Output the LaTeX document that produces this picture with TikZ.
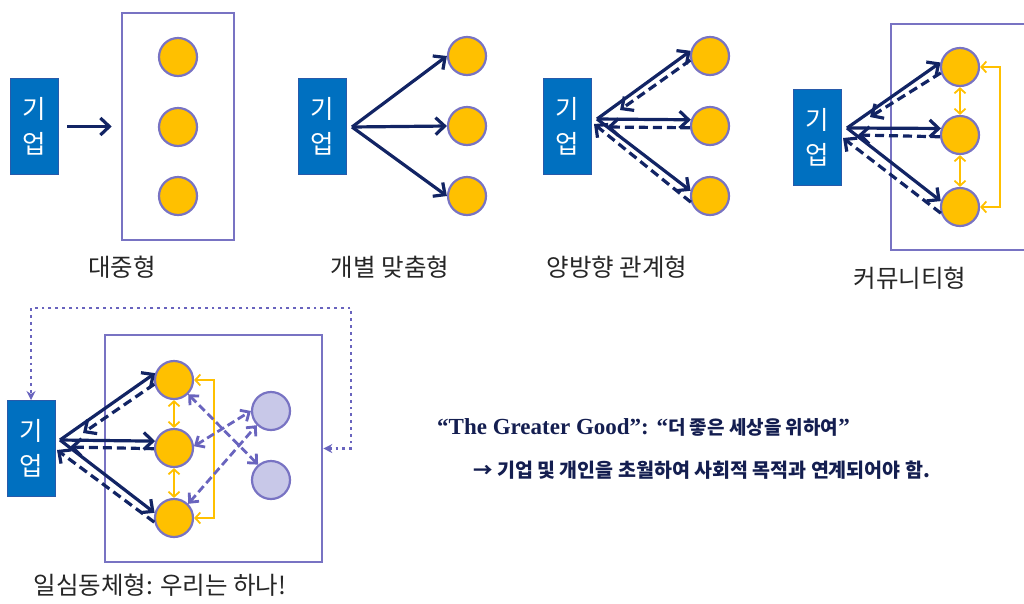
\documentclass[tikz,border=0pt]{standalone}
\usepackage{fontspec}
\setmainfont{Noto Sans CJK KR}
\newfontfamily\serifb{Liberation Serif}
\usetikzlibrary{arrows.meta,calc}
\definecolor{boxblue}{RGB}{0,112,192}
\definecolor{boxedge}{RGB}{40,90,170}
\definecolor{navy}{RGB}{18,36,100}
\definecolor{gold}{RGB}{255,192,0}
\definecolor{lav}{RGB}{120,115,195}
\definecolor{lavfill}{RGB}{200,200,232}
\definecolor{pline}{RGB}{105,100,190}
\definecolor{txtnavy}{RGB}{20,30,80}
\begin{document}
\begin{tikzpicture}[x=1pt,y=-1pt,
 firm/.style={rectangle,fill=boxblue,draw=boxedge,line width=1pt,minimum width=48pt,minimum height=96pt,inner sep=0pt,text=white,align=center,font=\fontsize{25.5}{35}\selectfont},
 person/.style={circle,fill=gold,draw=lav,line width=2.2pt,minimum size=38pt,inner sep=0pt},
 other/.style={person,fill=lavfill},
 frame/.style={draw=lav,line width=2.6pt,inner sep=0pt},
 lab/.style={font=\fontsize{24.5}{28}\selectfont,text=black!85},
 navyarr/.style={draw=navy,line width=3.2pt,-{Straight Barb[length=9pt,width=17pt]}},
 navydash/.style={navyarr,dash pattern=on 9pt off 5pt},
 yarr/.style={draw=gold,line width=1.8pt,{Straight Barb[length=5pt,width=11pt]}-{Straight Barb[length=5pt,width=11pt]}},
 pdash/.style={draw=pline,line width=2.8pt,dash pattern=on 8pt off 4pt,{Straight Barb[length=7pt,width=13pt]}-{Straight Barb[length=7pt,width=13pt]}},
 dotl/.style={draw=pline,line width=2.8pt,dash pattern=on 2.8pt off 4pt,{Stealth[length=9pt,width=9pt]}-{Stealth[length=9pt,width=9pt]}}
]
\useasboundingbox (0,0) rectangle (1024,603);
\clip (0,0) rectangle (1024,603);

% ---------- Panel 1 ----------
\node[firm] (f1) at (34.5,126.5) {기\\업};
\node[frame,minimum width=112pt,minimum height=227pt] (g1) at (178,126.5) {};
\node[person] (c11) at (178,57) {};
\node[person] (c12) at (178,127) {};
\node[person] (c13) at (178,196) {};
\draw[navyarr,shorten <=8pt,shorten >=9pt] (f1.east) -- (g1.west);
\node[lab] (l1) at (122,267) {대중형};

% ---------- Panel 2 ----------
\node[firm] (f2) at (322.5,126.5) {기\\업};
\coordinate (o2) at (352,127);
\node[person] (c21) at (467,56) {};
\node[person] (c22) at (467,126) {};
\node[person] (c23) at (467,196) {};
\draw[navyarr] (o2) -- (c21.west);
\draw[navyarr] (o2) -- (c22.west);
\draw[navyarr] (o2) -- (c23.west);
\node[lab] (l2) at (390,267) {개별 맞춤형};

% ---------- Panel 3 ----------
\node[firm] (f3) at (567,126.5) {기\\업};
\coordinate (o3) at (597,119);
\node[person] (c31) at (710,56) {};
\node[person] (c32) at (710,126) {};
\node[person] (c33) at (710,196) {};
\coordinate (d31) at (620,110);
\coordinate (d32) at (607,127);
\coordinate (d33) at (594,124);
\draw[navyarr] (o3) -- (c31.165);
\draw[navyarr] (o3) -- (c32.162);
\draw[navyarr] (o3) -- (c33.165);
\draw[navydash] (c31.192) -- (d31);
\draw[navydash] (c32.185) -- (d32);
\draw[navydash] (c33.198) -- (d33);
\node[lab] (l3) at (617,267) {양방향 관계형};

% ---------- Panel 4 ----------
\node[firm] (f4) at (817,137.5) {기\\업};
\draw[frame] (1030,24) -- (891,24) -- (891,250) -- (1030,250);
\coordinate (o4) at (847,128);
\node[person] (c41) at (960,67) {};
\node[person] (c42) at (960,135) {};
\node[person] (c43) at (960,207) {};
\coordinate (d41) at (870,117);
\coordinate (d42) at (858,135);
\coordinate (d43) at (843,138);
\draw[navyarr] (o4) -- (c41.167);
\draw[navyarr] (o4) -- (c42.161);
\draw[navyarr] (o4) -- (c43.163);
\draw[navydash] (c41.197) -- (d41);
\draw[navydash] (c42.185) -- (d42);
\draw[navydash] (c43.198) -- (d43);
\draw[yarr] (c41.south) -- (c42.north);
\draw[yarr] (c42.south) -- (c43.north);
\draw[yarr] (c41.east) -- ++(20,0) |- (c43.east);
\node[lab] (l4) at (910,278) {커뮤니티형};

% ---------- Panel 5 ----------
\node[firm] (f5) at (31,448.5) {기\\업};
\node[frame,minimum width=217pt,minimum height=227pt] (g5) at (213.5,448.5) {};
\coordinate (o5) at (60,440);
\node[person] (c51) at (174,380) {};
\node[person] (c52) at (174,448) {};
\node[person] (c53) at (174,518) {};
\node[other] (p1) at (271,411) {};
\node[other] (p2) at (271,480) {};
\coordinate (d51) at (83,433);
\coordinate (d52) at (70,447);
\coordinate (d53) at (57,450);
\draw[navyarr] (o5) -- (c51.160);
\draw[navyarr] (o5) -- (c52.160);
\draw[navyarr] (o5) -- (c53.165);
\draw[navydash] (c51.192) -- (d51);
\draw[navydash] (c52.182) -- (d52);
\draw[navydash] (c53.192) -- (d53);
\draw[yarr] (c51.south) -- (c52.north);
\draw[yarr] (c52.south) -- (c53.north);
\draw[yarr] (c51.east) -- ++(20,0) |- (c53.east);
\draw[pdash] (c51.-45) -- (p2.130);
\draw[pdash] (c52.5) -- (p1.180);
\draw[pdash] (c53.45) -- (p1.225);
\coordinate (top5) at (351,308);
\draw[dotl] (g5.east) -| (top5) -| (f5.north);
\node[lab] (l5) at (160,585) {일심동체형: 우리는 하나!};

% ---------- Text ----------
\node[anchor=base west,text=txtnavy,inner sep=0pt] (t1) at (437,434)
  {{\serifb\bfseries\fontsize{23}{26}\selectfont “The Greater Good”: “}{\bfseries\fontsize{19}{24}\selectfont 더 좋은 세상을 위하여}{\serifb\bfseries\fontsize{23}{26}\selectfont ”}};
\node[anchor=west,text=txtnavy,inner sep=0pt,font=\bfseries\fontsize{19.5}{22}\selectfont] (t2) at (473,470)
  {→ 기업 및 개인을 초월하여 사회적 목적과 연계되어야 함.};
\end{tikzpicture}
\end{document}
